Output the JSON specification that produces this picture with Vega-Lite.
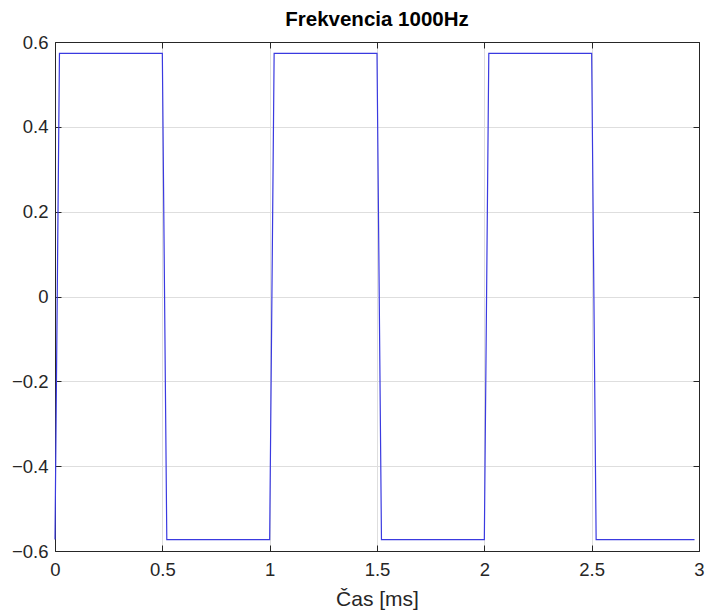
{
  "$schema": "https://vega.github.io/schema/vega-lite/v6.json",
  "width": 644,
  "height": 509,
  "autosize": {"type": "none"},
  "padding": {"left": 55, "top": 42, "right": 7, "bottom": 64},
  "background": "white",
  "title": {"text": "Frekvencia 1000Hz", "fontSize": 20.5, "fontWeight": "bold", "font": "Liberation Sans", "color": "#000000", "offset": 3, "anchor": "middle"},
  "config": {
    "view": {"stroke": "#262626", "strokeWidth": 1},
    "axis": {"labelFont": "Liberation Sans", "titleFont": "Liberation Sans", "labelColor": "#262626", "titleColor": "#262626", "domainColor": "#262626", "tickColor": "#262626", "gridColor": "#dedede", "labelFontSize": 18.5, "titleFontSize": 21, "titleFontWeight": "normal"}
  },
  "data": {"values": [
    {"t": 0, "v": -0.573},
    {"t": 0.0208, "v": 0.573},
    {"t": 0.5, "v": 0.573},
    {"t": 0.5208, "v": -0.573},
    {"t": 1.0, "v": -0.573},
    {"t": 1.0208, "v": 0.573},
    {"t": 1.5, "v": 0.573},
    {"t": 1.5208, "v": -0.573},
    {"t": 2.0, "v": -0.573},
    {"t": 2.0208, "v": 0.573},
    {"t": 2.5, "v": 0.573},
    {"t": 2.5208, "v": -0.573},
    {"t": 2.9792, "v": -0.573}
  ]},
  "layer": [
    {
      "mark": {"type": "line", "opacity": 0},
      "encoding": {
        "x": {"field": "t", "type": "quantitative", "scale": {"domain": [0, 3], "nice": false, "zero": false},
          "axis": {"orient": "top", "labels": false, "title": null, "grid": false, "tickSize": -6, "values": [0, 0.5, 1, 1.5, 2, 2.5, 3], "domain": true}},
        "y": {"field": "v", "type": "quantitative", "scale": {"domain": [-0.6, 0.6], "nice": false, "zero": false},
          "axis": {"orient": "right", "labels": false, "title": null, "grid": false, "tickSize": -6, "values": [-0.6, -0.4, -0.2, 0, 0.2, 0.4, 0.6], "domain": true}}
      }
    },
    {
      "mark": {"type": "line", "color": "#3a3ae0", "strokeWidth": 1.2, "interpolate": "linear"},
      "encoding": {
        "x": {"field": "t", "type": "quantitative", "scale": {"domain": [0, 3], "nice": false, "zero": false},
          "axis": {"orient": "bottom", "title": "Čas [ms]", "grid": true, "tickSize": -6, "labelPadding": 15, "titlePadding": 10, "values": [0, 0.5, 1, 1.5, 2, 2.5, 3], "format": "~g", "labelFlush": false}},
        "y": {"field": "v", "type": "quantitative", "scale": {"domain": [-0.6, 0.6], "nice": false, "zero": false},
          "axis": {"orient": "left", "title": null, "grid": true, "tickSize": -6, "labelPadding": 13, "values": [-0.6, -0.4, -0.2, 0, 0.2, 0.4, 0.6], "format": "~g", "labelFlush": false}}
      }
    }
  ],
  "resolve": {"axis": {"x": "independent", "y": "independent"}}
}
